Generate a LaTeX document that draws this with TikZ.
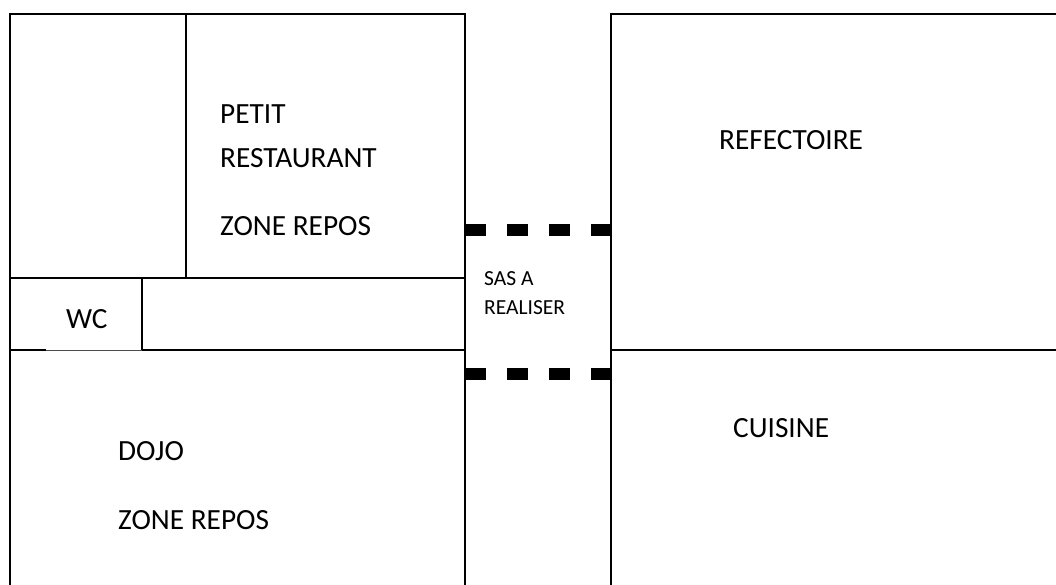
\documentclass[tikz,border=0pt]{standalone}
\usepackage{fontspec}
\setmainfont{Carlito}
\tikzset{
  wall/.style={line width=2pt,black},
  thin wall/.style={line width=1.2pt,black},
  hair wall/.style={line width=1pt,black!70},
  sasdash/.style={fill=black,draw=none},
  lbl/.style={anchor=west,inner sep=0pt,font=\fontsize{29.3}{34}\selectfont},
  small lbl/.style={anchor=west,inner sep=0pt,font=\fontsize{21.5}{26}\selectfont}
}
\begin{document}
\begin{tikzpicture}[x=1pt,y=-1pt]
\useasboundingbox (0,0) rectangle (1056,585);
% left block
\draw[wall] (10,585) -- (10,14) -- (465,14) -- (465,254);
\draw[thin wall] (465,254) -- (465,350);
\draw[wall] (465,350) -- (465,585);
\draw[wall] (186,14) -- (186,278);
\draw[wall] (10,278) -- (465,278);
\draw[wall] (10,350) -- (46,350);
\draw[hair wall] (46,350) -- (142,350);
\draw[wall] (142,350) -- (465,350);
\draw[thin wall] (142,278) -- (142,350);
\draw[wall] (142,278) -- (142,290);
% right block
\draw[wall] (1056,14) -- (611,14) -- (611,585);
\draw[wall] (611,350) -- (1056,350);
% dashed lines of the airlock
\foreach \y in {224,368}{
  \foreach \x/\w in {465/21,507/21,549/21,591/20}{
    \fill[sasdash] (\x,\y) rectangle ++(\w,12);
  }
}
% labels
\node[lbl] (petit) at (220,114) {PETIT};
\node[lbl] (resto) at (220,158) {RESTAURANT};
\node[lbl] (zone1) at (220,226) {ZONE REPOS};
\node[lbl] (wc) at (66,319) {WC};
\node[small lbl] (sas) at (484,279) {SAS A};
\node[small lbl] (real) at (484,308) {REALISER};
\node[lbl] (refect) at (719,140) {REFECTOIRE};
\node[lbl] (cuisine) at (733,428) {CUISINE};
\node[lbl] (dojo) at (118,451) {DOJO};
\node[lbl] (zone2) at (118,520) {ZONE REPOS};
\end{tikzpicture}
\end{document}
